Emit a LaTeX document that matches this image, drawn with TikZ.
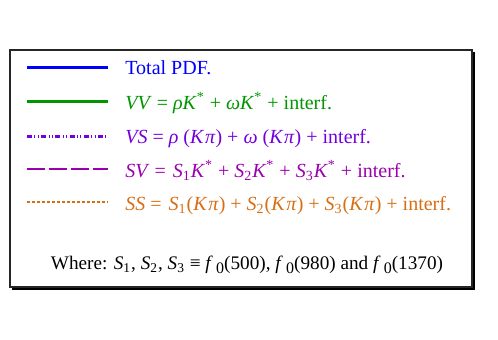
\documentclass[tikz,border=0pt]{standalone}
\usepackage{fontspec}
\setmainfont{Liberation Serif}

\definecolor{pdfblue}{RGB}{0,0,255}
\definecolor{vvgreen}{RGB}{0,150,0}
\definecolor{vsviolet}{RGB}{115,0,220}
\definecolor{svpurple}{RGB}{155,0,175}
\definecolor{ssorange}{RGB}{215,110,20}

\newcommand{\Kst}{\textit{K}\textsuperscript{*}}
\newcommand{\Kpi}{(\textit{K\hspace{0.08em}π})}
\newcommand{\Sn}[1]{\textit{S}\textsubscript{#1}}
\newcommand{\fzero}{\textit{f}\,\raisebox{-0.5ex}{\footnotesize 0}}

\begin{document}
\begin{tikzpicture}[x=0.5pt, y=-0.5pt,
  sample/.style={line width=1.5pt},
  entry/.style={anchor=base west, inner sep=0pt, font=\fontsize{10}{12}\selectfont},
  frame/.style={draw=black!85, line width=0.75pt}
]
\useasboundingbox (0,0) rectangle (498,339);

% Frame and its shadow
\draw[frame] (10,50) rectangle (472,287);
\draw[black, line width=1pt] (474,52) -- (474,289) -- (12,289);

% Line samples
\draw[sample, pdfblue] (27,67) -- (108,67);
\draw[sample, vvgreen] (27,101) -- (108,101);
\draw[sample, vsviolet, dash pattern=on 2.5pt off 1.2pt on 0.5pt off 1.2pt on 0.5pt off 1.2pt] (27,136) -- (108,136);
\draw[svpurple, line width=1pt, dash pattern=on 9pt off 2pt] (27,169) -- (108,169);
\draw[ssorange, line width=0.75pt, dash pattern=on 1.5pt off 1pt] (27,202) -- (108,202);

% Entries
\node[entry, pdfblue] (tot) at (125,74.5) {Total PDF.};
\node[entry, vvgreen] (vv) at (125,109)
  {\textit{VV} = \textit{ρ}\Kst{} + \textit{ω}\Kst{} + interf.};
\node[entry, vsviolet] (vs) at (125,143.5)
  {\textit{VS} = \textit{ρ} \Kpi{} + \textit{ω} \Kpi{} + interf.};
\node[entry, svpurple] (sv) at (125,177)
  {\textit{SV} =\hspace{0.35em}\Sn{1}\Kst{} + \Sn{2}\Kst{} + \Sn{3}\Kst{} + interf.};
\node[entry, ssorange] (ss) at (125,210)
  {\textit{SS} =\hspace{0.35em}\Sn{1}\Kpi{} + \Sn{2}\Kpi{} + \Sn{3}\Kpi{} + interf.};

\node[entry, anchor=base, font=\fontsize{9.6}{12}\selectfont] (where) at (247,269.5)
  {Where: \Sn{1}, \Sn{2}, \Sn{3} ≡ \fzero(500), \fzero(980) and \fzero(1370)};

\end{tikzpicture}
\end{document}
